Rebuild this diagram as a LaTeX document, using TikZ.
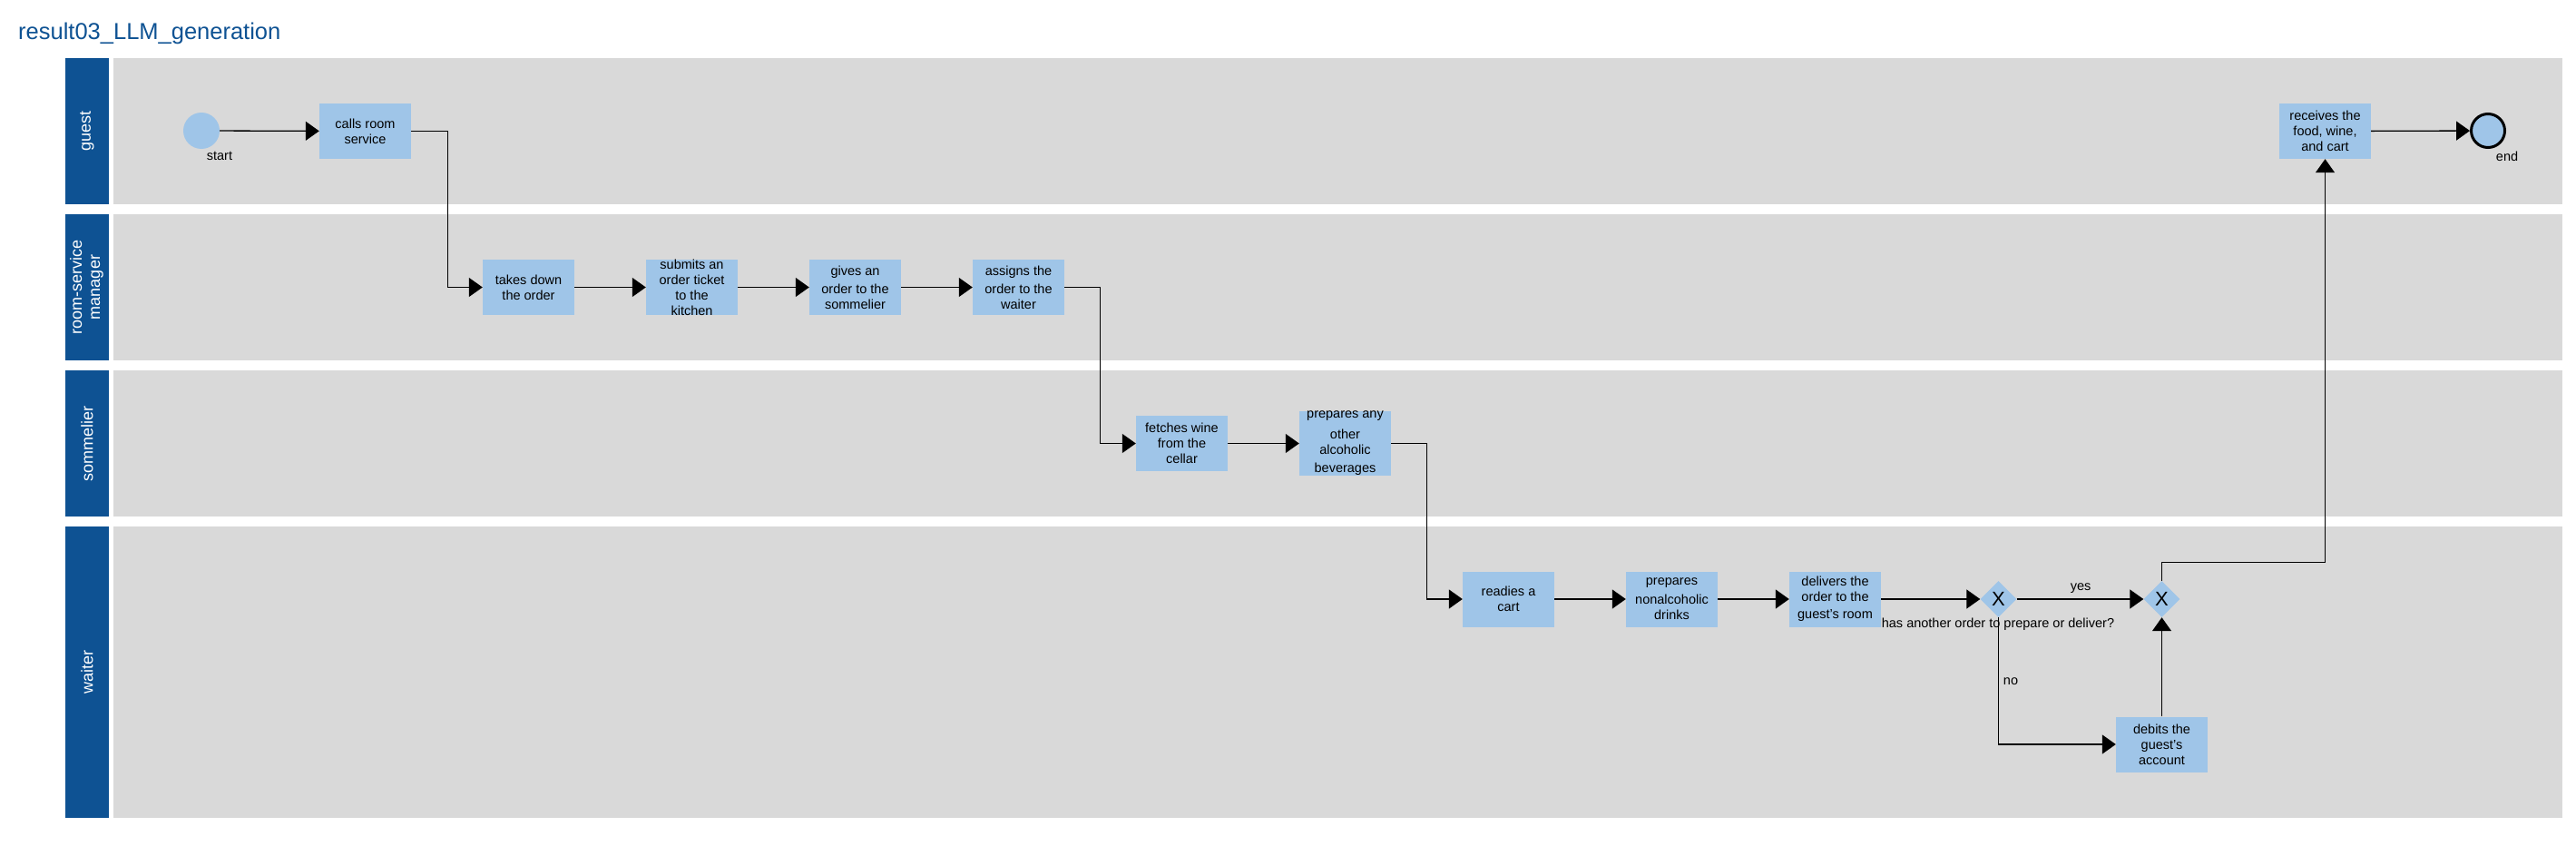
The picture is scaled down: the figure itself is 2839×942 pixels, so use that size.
\documentclass[tikz,border=0pt]{standalone}
\usepackage{fontspec}
\setmainfont{Liberation Sans}
\usetikzlibrary{arrows.meta,shapes.geometric}
\definecolor{lanebar}{RGB}{14,82,147}
\definecolor{lanebg}{RGB}{217,217,217}
\definecolor{taskfill}{RGB}{159,197,232}
\begin{document}
\begin{tikzpicture}[x=1pt,y=-1pt,
  lanelabel/.style={fill=lanebar,minimum width=48pt,inner sep=0pt,text=white,font=\fontsize{18}{21}\selectfont},
  laneback/.style={fill=lanebg,minimum width=2699pt,inner sep=0pt},
  task/.style={fill=taskfill,minimum width=101pt,minimum height=61pt,inner sep=0pt,align=center,font=\fontsize{14.5}{17}\selectfont},
  gate/.style={diamond,fill=taskfill,minimum width=40pt,minimum height=40pt,inner sep=0pt,font=\fontsize{22}{22}\selectfont},
  startev/.style={circle,fill=taskfill,minimum size=40pt,inner sep=0pt},
  endev/.style={circle,fill=taskfill,draw=black,line width=3pt,minimum size=37pt,inner sep=0pt},
  lbl/.style={font=\fontsize{14.5}{17}\selectfont,inner sep=0pt},
  flow/.style={draw=black,line width=1.3pt,-{Triangle[length=15pt,width=21pt]}}]
\useasboundingbox (0,0) rectangle (2839,942);
\fill[white] (0,0) rectangle (2839,942);
\node[anchor=base west,text=lanebar,font=\fontsize{25.5}{30}\selectfont,inner sep=0pt] (title) at (20,44) {result03\_LLM\_generation};
% lanes
\node[lanelabel,minimum height=161pt] (Lguest) at (96,144.5) {\rotatebox{90}{guest}};
\node[laneback,minimum height=161pt] (Bguest) at (1474.5,144.5) {};
\node[lanelabel,minimum height=161pt] (Lmgr) at (96,316.5) {\rotatebox{90}{\begin{tabular}{@{}c@{}}room-service\\[-1pt]manager\end{tabular}}};
\node[laneback,minimum height=161pt] (Bmgr) at (1474.5,316.5) {};
\node[lanelabel,minimum height=161pt] (Lsom) at (96,488.5) {\rotatebox{90}{sommelier}};
\node[laneback,minimum height=161pt] (Bsom) at (1474.5,488.5) {};
\node[lanelabel,minimum height=321pt] (Lwait) at (96,740.5) {\rotatebox{90}{waiter}};
\node[laneback,minimum height=321pt] (Bwait) at (1474.5,740.5) {};
% guest
\node[startev] (start) at (222,144) {};
\node[lbl] (startlbl) at (242,172) {start};
\node[task] (calls) at (402.5,144.5) {calls room\\service};
\node[task] (receives) at (2562.5,144.5) {receives the\\food, wine,\\and cart};
\node[endev] (end) at (2742,144) {};
\node[lbl] (endlbl) at (2763,172) {end};
% manager
\node[task] (takes) at (582.5,316.5) {takes down\\the order};
\node[task] (submits) at (762.5,316.5) {submits an\\order ticket\\to the\\kitchen};
\node[task] (gives) at (942.5,316.5) {gives an\\[3pt]order to the\\sommelier};
\node[task] (assigns) at (1122.5,316.5) {assigns the\\[3pt]order to the\\waiter};
% sommelier
\node[task] (fetch) at (1302.5,488.5) {fetches wine\\from the\\cellar};
\node[task] (other) at (1482.5,488.5) {prepares any\\[6pt]other\\alcoholic\\[3pt]beverages};
% waiter
\node[task] (readies) at (1662.5,660) {readies a\\cart};
\node[task] (nonalc) at (1842.5,660) {prepares\\[4pt]nonalcoholic\\drinks};
\node[task] (delivers) at (2022.5,660) {delivers the\\order to the\\[2pt]guest's room};
\node[gate] (gw1) at (2202.5,660) {X};
\node[gate] (gw2) at (2382.5,660) {X};
\node[task] (debits) at (2382.5,820) {debits the\\guest's\\account};
% flows
\draw[flow] (start) -- (calls);
\draw[flow] (calls.east) -- ++(40,0) |- (takes.west);
\draw[flow] (takes) -- (submits);
\draw[flow] (submits) -- (gives);
\draw[flow] (gives) -- (assigns);
\draw[flow] (assigns.east) -- ++(39,0) |- (fetch.west);
\draw[flow] (fetch) -- (other);
\draw[flow] (other.east) -- ++(39,0) |- (readies.west);
\draw[flow] (readies) -- (nonalc);
\draw[flow] (nonalc) -- (delivers);
\draw[flow] (delivers) -- (gw1);
\draw[flow] (gw1) -- (gw2);
\draw[flow] (gw1.south) |- (debits.west);
\draw[flow] (debits) -- (gw2);
\draw[flow] (gw2.north) -- ++(0,-20) -| (receives.south);
\draw[flow] (receives) -- (end);
% labels
\node[lbl] (yes) at (2293,648) {yes};
\node[lbl] (no) at (2216,751) {no};
\node[lbl] (question) at (2202,688) {has another order to prepare or deliver?};
\end{tikzpicture}
\end{document}
